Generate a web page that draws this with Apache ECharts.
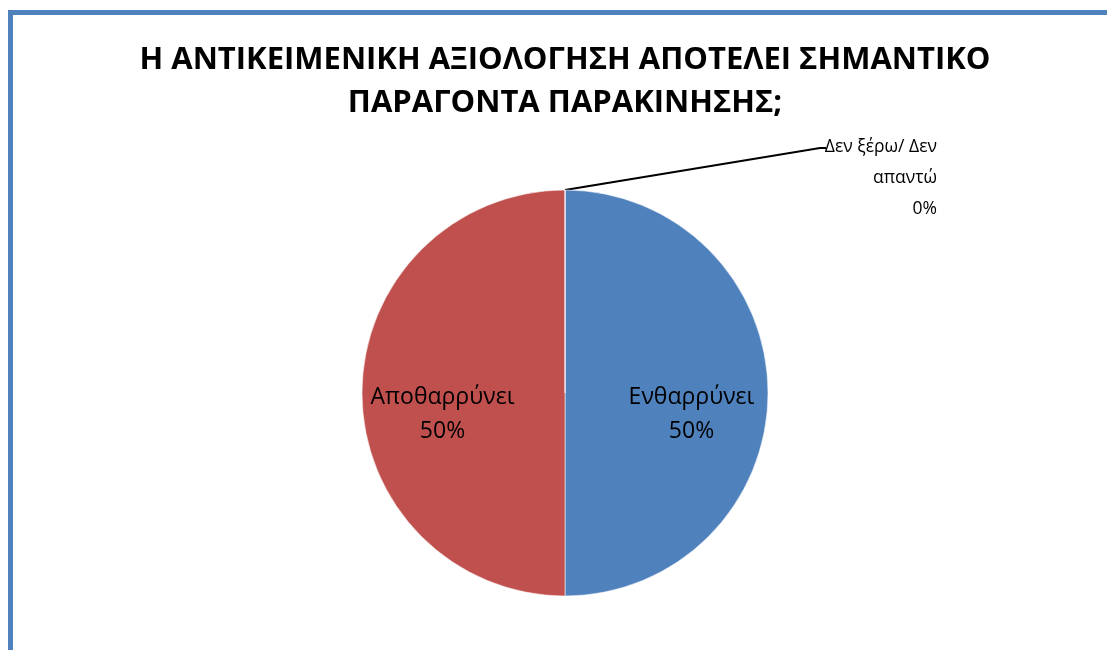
<!DOCTYPE html>
<html>
<head>
<meta charset="utf-8">
<script src="https://cdn.jsdelivr.net/npm/echarts@6/dist/echarts.min.js"></script>
<style>
  html, body { margin: 0; padding: 0; background: #fff; }
  #chart { width: 1107px; height: 650px; }
</style>
</head>
<body>
<div id="chart"></div>
<script>
var titleText = 'Η ΑΝΤΙΚΕΙΜΕΝΙΚΗ ΑΞΙΟΛΟΓΗΣΗ ΑΠΟΤΕΛΕΙ ΣΗΜΑΝΤΙΚΟ\nΠΑΡΑΓΟΝΤΑ ΠΑΡΑΚΙΝΗΣΗΣ;';
var categories = ['Ενθαρρύνει', 'Αποθαρρύνει', 'Δεν ξέρω/ Δεν\nαπαντώ'];
var values = [50, 50, 0];
var colors = ['#4F81BD', '#C0504D', '#9BBB59'];

var FONT = 'Open Sans';
var chart = echarts.init(document.getElementById('chart'), null, { renderer: 'canvas' });

var data = categories.map(function (c, i) {
  var item = { name: c, value: values[i], itemStyle: { color: colors[i] } };
  if (values[i] === 0) {
    item.label = { position: 'outside', show: true, fontSize: 17.5, lineHeight: 31, align: 'right' };
    item.labelLine = { show: true, length: 10, length2: 10, lineStyle: { color: '#000', width: 2 } };
  }
  return item;
});

chart.setOption({
  backgroundColor: '#fff',
  animation: false,
  title: {
    text: titleText,
    left: 560,
    textAlign: 'center',
    top: 34,
    textStyle: { fontFamily: FONT, fontSize: 31, fontWeight: 'bold', color: '#000', lineHeight: 43 }
  },
  graphic: [
    { type: 'rect', shape: { x: 8, y: 10, width: 1110, height: 5 }, style: { fill: '#4F81BD' } },
    { type: 'rect', shape: { x: 8, y: 10, width: 5, height: 650 }, style: { fill: '#4F81BD' } }
  ],
  series: [{
    type: 'pie',
    center: [565, 393],
    radius: 203,
    startAngle: 90,
    clockwise: true,
    avoidLabelOverlap: false,
    stillShowZeroSum: true,
    itemStyle: { borderColor: 'rgba(255,255,255,0.55)', borderWidth: 1 },
    label: {
      show: true,
      position: 'inside',
      fontFamily: FONT,
      fontSize: 23,
      color: '#000',
      lineHeight: 34,
      align: 'center',
      formatter: function (p) { return p.name + '\n' + Math.round(p.percent) + '%'; }
    },
    labelLine: { show: false },
    labelLayout: function (p) {
      if (p.dataIndex === 2) {
        var a = p.labelLinePoints ? p.labelLinePoints[0] : [565, 190];
        return {
          x: a[0] + 372,
          y: a[1] - 58,
          align: 'right',
          verticalAlign: 'top',
          labelLinePoints: [a, [a[0] + 255, a[1] - 42], [a[0] + 261, a[1] - 42]]
        };
      }
      return { dx: p.dataIndex === 0 ? 22 : -18, dy: 21 };
    },
    emphasis: { disabled: true },
    data: data
  }]
});
</script>
</body>
</html>
